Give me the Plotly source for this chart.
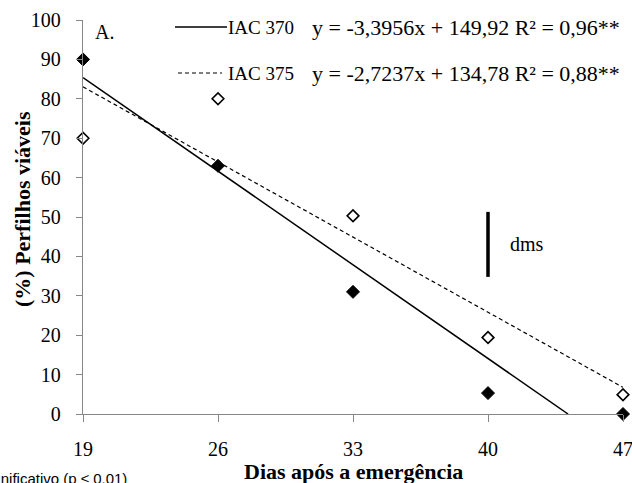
import numpy as np
import plotly.graph_objects as go

# Data
dias = [19, 26, 33, 40, 47]
iac370 = [90, 63, 31, 5.3, 0]
iac375 = [70, 80, 50.3, 19.4, 4.9]

# Regression coefficients (slope, intercept)
coef370 = (-3.3956, 149.92)
coef375 = (-2.7237, 134.78)
lab370 = "IAC 370"
lab375 = "IAC 375"
eq370 = "y = -3,3956x + 149,92 R² = 0,96**"
eq375 = "y = -2,7237x + 134,78 R² = 0,88**"

# dms bar (least significant difference)
dms_x = 40
dms_low, dms_high = 34.8, 51.3

x_ticks = [19, 26, 33, 40, 47]
y_ticks = list(range(0, 101, 10))

SERIF = "Liberation Serif, Times New Roman, serif"
AXIS_GRAY = "#878787"

fig = go.Figure()

# fitted lines
x1_370 = -coef370[1] / coef370[0]
xl370 = np.array([19, x1_370])
fig.add_trace(go.Scatter(x=xl370, y=coef370[0] * xl370 + coef370[1], mode="lines",
                         line=dict(color="black", width=1.5), showlegend=False,
                         hoverinfo="skip", cliponaxis=False))
xl375 = np.array([19, 47])
fig.add_trace(go.Scatter(x=xl375, y=coef375[0] * xl375 + coef375[1], mode="lines",
                         line=dict(color="black", width=1.2, dash="4px,3px"), showlegend=False,
                         hoverinfo="skip", cliponaxis=False))

# points
fig.add_trace(go.Scatter(x=dias, y=iac370, mode="markers", showlegend=False,
                         marker=dict(symbol="diamond", size=10, color="black",
                                     line=dict(color="black", width=1)),
                         cliponaxis=False))
fig.add_trace(go.Scatter(x=dias, y=iac375, mode="markers", showlegend=False,
                         marker=dict(symbol="diamond-open", size=9, color="black",
                                     line=dict(color="black", width=1.6)),
                         cliponaxis=False))

# dms bar
fig.add_trace(go.Scatter(x=[dms_x, dms_x], y=[dms_low, dms_high], mode="lines",
                         line=dict(color="black", width=3.5), showlegend=False,
                         hoverinfo="skip"))

L, R, T, B = 83, 9, 20, 69
PW, PH = 632 - L - R, 483 - T - B


def pxx(px):
    return (px - L) / PW


def pxy(py):
    return (T + PH - py) / PH


shapes = [
    dict(type="line", xref="paper", yref="paper",
         x0=pxx(175), x1=pxx(227), y0=pxy(27), y1=pxy(27),
         line=dict(color="black", width=1.3)),
    dict(type="line", xref="paper", yref="paper",
         x0=pxx(178), x1=pxx(222), y0=pxy(73), y1=pxy(73),
         line=dict(color="black", width=1.1, dash="4px,3px")),
]

leg_font_lab = dict(family=SERIF, size=19, color="black")
leg_font_eq = dict(family=SERIF, size=22, color="black")

annotations = [
    dict(text=lab370, xref="paper", yref="paper", x=pxx(226), y=pxy(28),
         xanchor="left", yanchor="middle", showarrow=False, font=leg_font_lab),
    dict(text=eq370, xref="paper", yref="paper", x=pxx(310), y=pxy(28),
         xanchor="left", yanchor="middle", showarrow=False, font=leg_font_eq),
    dict(text=lab375, xref="paper", yref="paper", x=pxx(226), y=pxy(74),
         xanchor="left", yanchor="middle", showarrow=False, font=leg_font_lab),
    dict(text=eq375, xref="paper", yref="paper", x=pxx(310), y=pxy(74),
         xanchor="left", yanchor="middle", showarrow=False, font=leg_font_eq),
    dict(text="A.", xref="paper", yref="paper", x=pxx(93), y=pxy(32),
         xanchor="left", yanchor="middle", showarrow=False,
         font=dict(family=SERIF, size=20, color="black")),
    dict(text="dms", xref="x", yref="y", x=41.05, y=(dms_low + dms_high) / 2,
         xanchor="left", yanchor="middle", showarrow=False,
         font=dict(family=SERIF, size=20, color="black")),
    dict(text="<b>Dias após a emergência</b>", xref="paper", yref="paper",
         x=0.5, y=pxy(471), xanchor="center", yanchor="middle", showarrow=False,
         font=dict(family=SERIF, size=22, color="black")),
    dict(text="<b>(%) Perfilhos viáveis</b>", xref="paper", yref="paper",
         x=pxx(22), y=pxy(209), xanchor="center", yanchor="middle", showarrow=False,
         textangle=-90, font=dict(family=SERIF, size=22, color="black")),
    dict(text="** Não significativo (p ≤ 0,01)", xref="paper", yref="paper",
         x=pxx(129), y=pxy(478),
         xanchor="right", yanchor="middle", showarrow=False,
         font=dict(family="Liberation Sans, Arial, sans-serif", size=15, color="black")),
]

fig.update_layout(
    width=632, height=483,
    margin=dict(l=L, r=R, t=T, b=B),
    paper_bgcolor="white", plot_bgcolor="white",
    showlegend=False,
    shapes=shapes, annotations=annotations,
    font=dict(family=SERIF, size=20, color="black"),
)

fig.update_xaxes(range=[19, 47], tickvals=x_ticks, ticktext=[str(v) for v in x_ticks],
                 automargin=False, ticklabeloverflow="allow",
                 showgrid=False, zeroline=False, showline=True, linecolor=AXIS_GRAY, linewidth=1.3,
                 ticks="outside", ticklen=7, tickcolor=AXIS_GRAY, tickwidth=1.3,
                 ticklabelstandoff=10,
                 tickfont=dict(family=SERIF, size=20, color="black"))
fig.update_yaxes(range=[0, 100], tickvals=y_ticks,
                 automargin=False, ticklabeloverflow="allow",
                 showgrid=False, zeroline=False, showline=True, linecolor=AXIS_GRAY, linewidth=1.3,
                 ticks="outside", ticklen=6, tickcolor=AXIS_GRAY, tickwidth=1.3,
                 ticklabelstandoff=11,
                 tickfont=dict(family=SERIF, size=20, color="black"))

fig.write_html("out.html", config={"displayModeBar": False},
               post_script="document.body.style.margin='0';document.body.style.overflow='hidden';")
